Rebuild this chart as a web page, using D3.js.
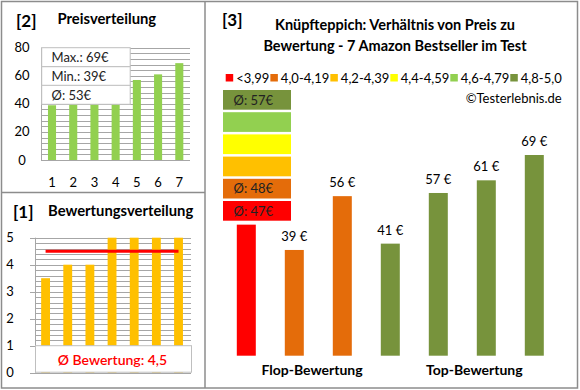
<!DOCTYPE html>
<html><head><meta charset="utf-8">
<script src="https://cdn.jsdelivr.net/npm/d3@7"></script>
<style>
html,body{margin:0;padding:0;background:#fff;}
svg{display:block;font-family:Lato,"Open Sans",sans-serif;}
</style></head><body>
<svg id="c" width="580" height="390"></svg>
<script>
// ---- data ----
const priceIdx = [1, 2, 3, 4, 5, 6, 7];
const priceSorted = [39, 41, 47, 56, 57, 61, 69];
const ratingSorted = [3.5, 4.0, 4.0, 5.0, 5.0, 5.0, 5.0];
const productPrices = [47, 39, 56, 41, 57, 61, 69];
const productRatings = [3.5, 4.0, 4.0, 5.0, 5.0, 5.0, 5.0];
const classLabels = ["<3,99", "4,0-4,19", "4,2-4,39", "4,4-4,59", "4,6-4,79", "4,8-5,0"];
const classLimits = [3.995, 4.195, 4.395, 4.595, 4.795, 5.01];
const classColors = ["#FF0000", "#E46C0A", "#FFC000", "#FFFF00", "#92D050", "#77933C"];
const groupLabels = ["Flop-Bewertung", "Top-Bewertung"];
const priceTicks = [0, 20, 40, 60, 80];
const ratingTicks = [0, 1, 2, 3, 4, 5];

const svg = d3.select("#c");
const GRID = "#a6a6a6";
const FRAME = "#8c8c8c";

// ---- frame ----
svg.append("rect").attr("x", 1.5).attr("y", 1.5).attr("width", 576).attr("height", 386.5)
  .attr("fill", "none").attr("stroke", FRAME).attr("stroke-width", 1.5);
svg.append("line").attr("x1", 205).attr("x2", 205).attr("y1", 1.5).attr("y2", 388)
  .attr("stroke", FRAME).attr("stroke-width", 1.5);
svg.append("line").attr("x1", 1.5).attr("x2", 205).attr("y1", 192.5).attr("y2", 192.5)
  .attr("stroke", FRAME).attr("stroke-width", 1.5);

// ---- panel [2] Preisverteilung ----
svg.append("text").attr("x", 16).attr("y", 27).attr("font-size", 17).attr("font-weight", "bold").text("[2]");
svg.append("text").attr("x", 57.5).attr("y", 24).attr("font-size", 14.8).attr("font-weight", "bold").text("Preisverteilung");

const x2 = d3.scaleBand().domain(priceIdx).range([41.4, 189.9]).padding(0);
const y2 = d3.scaleLinear().domain([0, 80]).range([160, 47.7]);
const g2 = svg.append("g");
g2.selectAll("line.grid").data(d3.range(0, 81, 4)).join("line")
  .attr("x1", 41).attr("x2", 190).attr("y1", d => Math.round(y2(d)) + 0.5).attr("y2", d => Math.round(y2(d)) + 0.5)
  .attr("stroke", GRID).attr("stroke-width", 1);
g2.append("line").attr("x1", 41.5).attr("x2", 41.5).attr("y1", y2(80)).attr("y2", y2(0)).attr("stroke", GRID);
g2.selectAll("rect.bar").data(priceSorted).join("rect")
  .attr("x", (d, i) => x2(priceIdx[i]) + x2.bandwidth() * 0.31)
  .attr("width", x2.bandwidth() * 0.38)
  .attr("y", d => y2(d)).attr("height", d => y2(0) - y2(d))
  .attr("fill", "#92D050");
g2.selectAll("text.yt").data(priceTicks).join("text")
  .attr("x", 22).attr("y", d => y2(d) + 4.5).attr("text-anchor", "middle").attr("font-size", 13).text(d => d);
g2.selectAll("text.xt").data(priceIdx).join("text")
  .attr("x", d => x2(d) + x2.bandwidth() / 2).attr("y", 187).attr("text-anchor", "middle").attr("font-size", 13).text(d => d);
// stats box
const statTexts = ["Max.: " + d3.max(priceSorted) + "€", "Min.: " + d3.min(priceSorted) + "€", "Ø: " + Math.round(d3.mean(priceSorted)) + "€"];
const rowTops = [47.7, 66.7, 85.3];
const rowH = 19;
g2.selectAll("rect.stat").data(statTexts).join("rect")
  .attr("x", 41.7).attr("y", (d, i) => rowTops[i]).attr("width", 88.5).attr("height", rowH)
  .attr("fill", "#fff").attr("stroke", "#bfbfbf");
g2.selectAll("text.stat").data(statTexts).join("text")
  .attr("x", 51.5).attr("y", (d, i) => rowTops[i] + 14.5).attr("font-size", 13).attr("fill", "#222").text(d => d);

// ---- panel [1] Bewertungsverteilung ----
svg.append("text").attr("x", 13).attr("y", 218).attr("font-size", 17).attr("font-weight", "bold").text("[1]");
svg.append("text").attr("x", 48).attr("y", 216).attr("font-size", 14.8).attr("font-weight", "bold").text("Bewertungsverteilung");

const x1 = d3.scaleBand().domain(priceIdx).range([34.5, 189.6]).padding(0);
const y1 = d3.scaleLinear().domain([0, 5]).range([372.7, 237.7]);
const g1 = svg.append("g");
g1.selectAll("line.grid").data(d3.range(0, 26).map(i => i / 5)).join("line")
  .attr("x1", 35).attr("x2", 191).attr("y1", d => Math.round(y1(d)) + 0.5).attr("y2", d => Math.round(y1(d)) + 0.5)
  .attr("stroke", GRID);
g1.append("line").attr("x1", 35.5).attr("x2", 35.5).attr("y1", y1(5)).attr("y2", y1(0)).attr("stroke", GRID);
g1.selectAll("line.tick").data(ratingTicks).join("line")
  .attr("x1", 30).attr("x2", 35).attr("y1", d => Math.round(y1(d)) + 0.5).attr("y2", d => Math.round(y1(d)) + 0.5)
  .attr("stroke", GRID);
g1.selectAll("rect.bar").data(ratingSorted).join("rect")
  .attr("x", (d, i) => x1(priceIdx[i]) + x1.bandwidth() * 0.3)
  .attr("width", x1.bandwidth() * 0.4)
  .attr("y", d => y1(d)).attr("height", d => y1(0) - y1(d))
  .attr("fill", "#FFC000");
const avgRating = d3.mean(ratingSorted);
g1.append("line")
  .attr("x1", x1(priceIdx[0]) + x1.bandwidth() / 2).attr("x2", x1(priceIdx[6]) + x1.bandwidth() / 2)
  .attr("y1", y1(avgRating)).attr("y2", y1(avgRating))
  .attr("stroke", "#FF0000").attr("stroke-width", 3);
g1.append("rect").attr("x", 35.5).attr("y", y1(1)).attr("width", 156).attr("height", y1(0) - y1(1) - 0.5)
  .attr("fill", "#fff").attr("stroke", "#bfbfbf");
g1.append("text").attr("x", 112.5).attr("y", 365).attr("text-anchor", "middle").attr("font-size", 14)
  .attr("fill", "#FF0000").attr("font-weight", 600)
  .text("Ø Bewertung: " + d3.format(".1f")(avgRating).replace(".", ","));
g1.selectAll("text.yt").data(ratingTicks).join("text")
  .attr("x", 10).attr("y", d => y1(d) + 4.5).attr("text-anchor", "middle").attr("font-size", 13).text(d => d);

// ---- panel [3] ----
svg.append("text").attr("x", 222).attr("y", 26).attr("font-size", 17).attr("font-weight", "bold").text("[3]");
const titleLines = ["Knüpfteppich: Verhältnis von Preis zu", "Bewertung - 7 Amazon Bestseller im Test"];
svg.selectAll("text.title").data(titleLines).join("text")
  .attr("x", 395).attr("y", (d, i) => 30 + i * 20.5).attr("text-anchor", "middle")
  .attr("font-size", 14.5).attr("font-weight", "bold").text(d => d);

// legend
const legG = svg.append("g");
const legItems = legG.selectAll("g").data(classLabels).join("g");
legItems.append("rect").attr("width", 7.5).attr("height", 7.5).attr("y", 74).attr("fill", (d, i) => classColors[i]);
legItems.append("text").attr("x", 10.5).attr("y", 82.5).attr("font-size", 13).text(d => d);
const widths = [];
legItems.each(function () { widths.push(this.querySelector("text").getComputedTextLength() + 10.5); });
const legStart = 225.7, legEnd = 561.7;
const gap = (legEnd - legStart - d3.sum(widths)) / (classLabels.length - 1);
let cx = legStart;
legItems.attr("transform", (d, i) => { const t = `translate(${cx},0)`; cx += widths[i] + gap; return t; });

svg.append("text").attr("x", 561.7).attr("y", 103).attr("text-anchor", "end").attr("font-size", 13).text("©Testerlebnis.de");

// bars
const classOf = r => classLimits.findIndex(l => r < l);
const x3 = d3.scaleBand().domain(d3.range(productPrices.length)).range([222.3, 558.3]).padding(0);
const y3 = d3.scaleLinear().domain([5.6, 69]).range([355.7, 155]);
const g3 = svg.append("g");
g3.selectAll("rect.bar").data(productPrices).join("rect")
  .attr("x", (d, i) => x3(i) + x3.bandwidth() / 2 - 9.5).attr("width", 19)
  .attr("y", d => y3(d)).attr("height", d => y3(5.6) - y3(d))
  .attr("fill", (d, i) => classColors[classOf(productRatings[i])]);

// class average boxes (top = best class)
const classAvg = classColors.map((c, k) => {
  const ps = productPrices.filter((p, i) => classOf(productRatings[i]) === k);
  return ps.length ? Math.round(d3.mean(ps)) : null;
});
const boxOrder = d3.range(classColors.length).reverse();
const boxTop = 90, boxStep = 22.2, boxX = 223, boxW = 68;
const boxBottom = boxTop + boxOrder.length * boxStep;

// value labels (a label that would sit under the average boxes is hidden, as in the original)
const labelData = productPrices.map((d, i) => ({ d, i, x: x3(i) + x3.bandwidth() / 2, y: y3(d) - 9 }))
  .filter(o => !(o.x > boxX && o.x < boxX + boxW && o.y < boxBottom + 4));
g3.selectAll("text.val").data(labelData).join("text")
  .attr("x", o => o.x).attr("y", o => o.y)
  .attr("text-anchor", "middle").attr("font-size", 13).text(o => o.d + " €");
const groupPos = [1.37, 4.75];
g3.selectAll("text.grp").data(groupLabels).join("text")
  .attr("x", (d, i) => x3(0) + x3.bandwidth() * (groupPos[i] + 0.5)).attr("y", 375)
  .attr("text-anchor", "middle").attr("font-size", 14).attr("font-weight", "bold").text(d => d);

const boxes = g3.selectAll("g.box").data(boxOrder).join("g");
boxes.append("rect").attr("x", boxX).attr("y", (k, j) => boxTop + j * boxStep).attr("width", boxW).attr("height", 19.7)
  .attr("fill", k => classColors[k]);
boxes.filter(k => classAvg[k] !== null).append("text")
  .attr("x", 233.5).attr("y", (k) => boxTop + boxOrder.indexOf(k) * boxStep + 14.5)
  .attr("font-size", 13).attr("fill", "#222").text(k => "Ø: " + classAvg[k] + "€");
</script>
</body></html>
